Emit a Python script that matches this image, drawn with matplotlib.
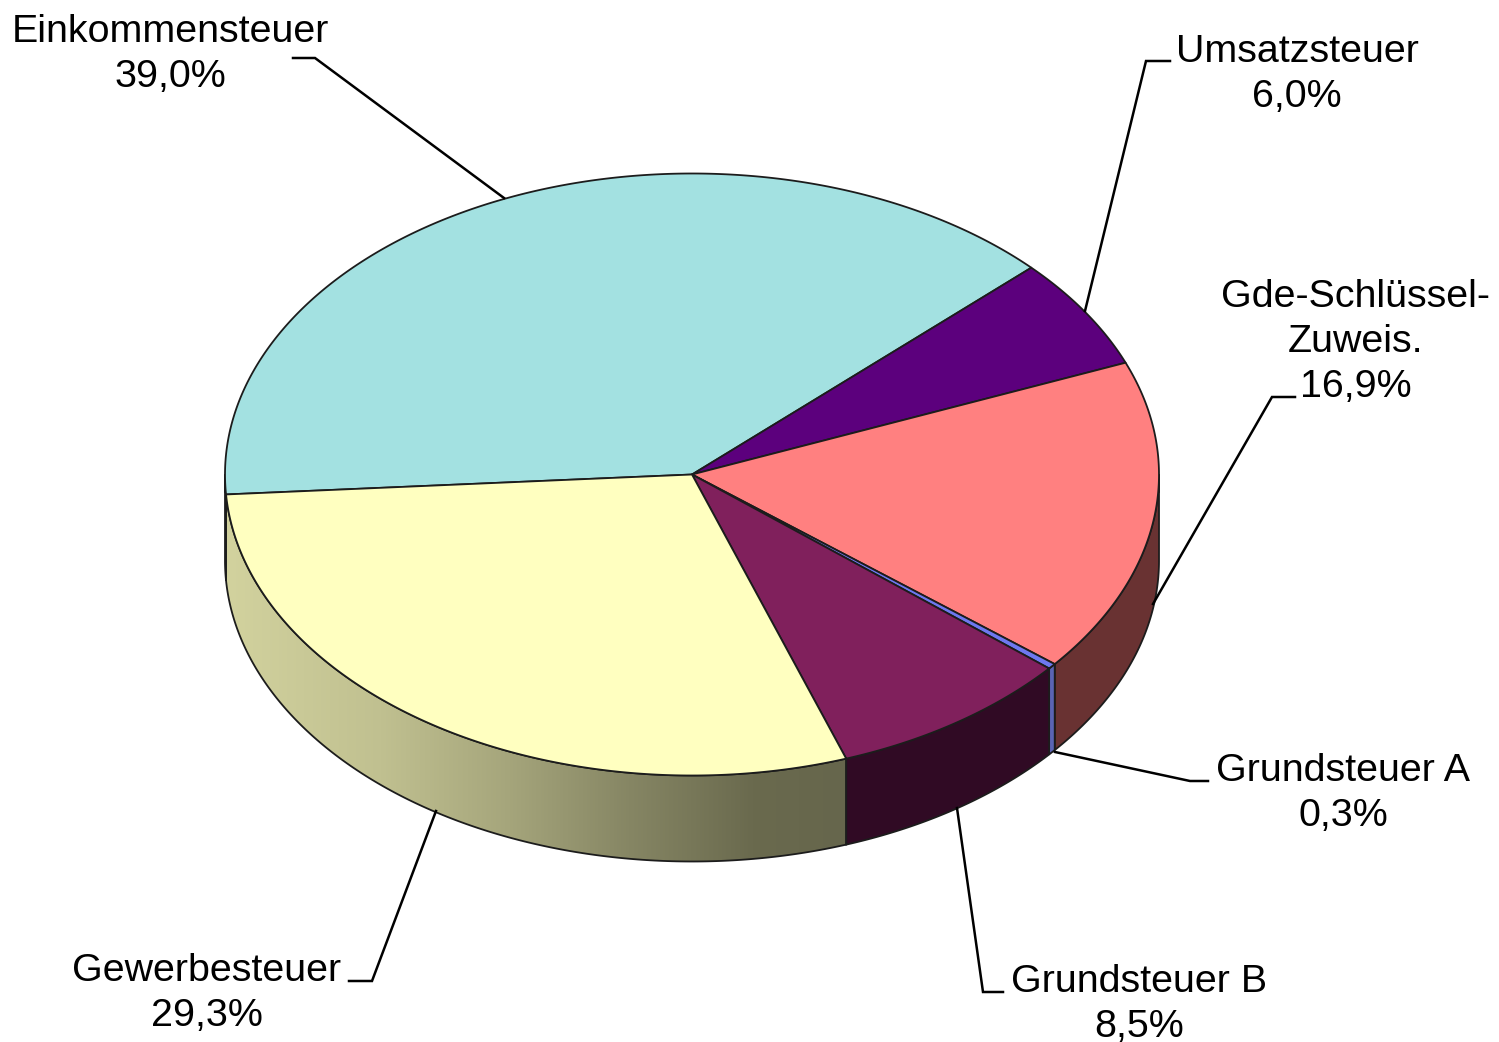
#!/usr/bin/env python
import numpy as np
import matplotlib
matplotlib.use('Agg')
import matplotlib.pyplot as plt
from matplotlib.colors import LinearSegmentedColormap
from matplotlib.patches import Polygon

plt.rcParams['font.family'] = ['Liberation Sans', 'DejaVu Sans']

labels = ['Einkommensteuer', 'Umsatzsteuer', 'Gde-Schlüssel-\nZuweis.',
          'Grundsteuer A', 'Grundsteuer B', 'Gewerbesteuer']
values = [39.0, 6.0, 16.9, 0.3, 8.5, 29.3]
top_colors = ['#a3e1e1', '#5c007d', '#ff8080', '#6e78f0', '#80205c', '#ffffc0']
side_colors = ['#6f9a9a', '#2e003e', '#693232', '#5a64b4', '#300a24', None]

# label centre, line spacing is 45 px
label_pos = [(170, 32), (1297, 52), (1356, 297), (1343, 771), (1139, 982), (207, 971)]
leaders = [
    [(293, 58), (315, 58), (504, 198)],
    [(1170, 61), (1146, 61), (1085, 311)],
    [(1295, 397), (1272, 397), (1153, 604)],
    [(1208, 781), (1190, 781), (1055, 752)],
    [(1003, 992), (983, 992), (957, 808)],
    [(349, 981), (372, 981), (436, 811)],
]

# pie geometry in pixels
cx, cy = 692, 474.5
rx, ry = 467, 301
depth = 86
start = 183.8
EDGE = '#1c1c1c'


def rim(t, dy=0):
    t = np.radians(t)
    return np.column_stack([cx + rx*np.cos(t), cy - ry*np.sin(t) + dy])


fig = plt.figure(figsize=(14.99, 10.42), dpi=100)
ax = fig.add_axes([0, 0, 1, 1])

# gradient of the Gewerbesteuer wall, left to right
grad = LinearSegmentedColormap.from_list('wall', [
    (0.00, '#d2d29e'), (0.25, '#c0c090'), (0.45, '#a6a67c'),
    (0.65, '#868664'), (0.85, '#6a6a4e'), (1.00, '#66664c')])

angles = start - np.cumsum([0] + values) * 3.6
for i in range(len(values)):
    t1, t0 = angles[i], angles[i+1]
    # walls, only the front half shows
    for shift in (0, -360):
        hi, lo = min(t1 + shift, 0), max(t0 + shift, -180)
        if hi <= lo:
            continue
        t = np.linspace(hi, lo, 200)
        pts = np.vstack([rim(t), rim(t[::-1], depth)])
        if side_colors[i] is None:
            wall = Polygon(pts, closed=True, fc='none', ec='none')
            ax.add_patch(wall)
            im = ax.imshow(np.linspace(0, 1, 256)[None, :], cmap=grad, aspect='auto',
                           extent=(pts[:, 0].min(), pts[:, 0].max(), cy + ry + depth, cy), zorder=1)
            im.set_clip_path(wall)
            ax.add_patch(Polygon(pts, closed=True, fc='none', ec=EDGE, lw=1.3, zorder=2))
        else:
            ax.add_patch(Polygon(pts, closed=True, fc=side_colors[i], ec=EDGE, lw=1.3, zorder=2))

for i in range(len(values)):
    t = np.linspace(angles[i], angles[i+1], 300)
    pts = np.vstack([[(cx, cy)], rim(t)])
    ax.add_patch(Polygon(pts, closed=True, fc=top_colors[i], ec=EDGE, lw=1.3,
                         joinstyle='round', zorder=3))

for line in leaders:
    xy = np.array(line)
    ax.plot(xy[:, 0], xy[:, 1], color='black', lw=1.8, solid_joinstyle='miter', zorder=4)

for name, val, (x, y) in zip(labels, values, label_pos):
    lines = name.split('\n') + [f'{val:.1f}%'.replace('.', ',')]
    for k, txt in enumerate(lines):
        ax.text(x, y + 45*k, txt, ha='center', va='center', fontsize=28.4, color='black')

ax.set_xlim(0, 1499)
ax.set_ylim(1042, 0)
ax.axis('off')
fig.savefig('out.png', dpi=100)
